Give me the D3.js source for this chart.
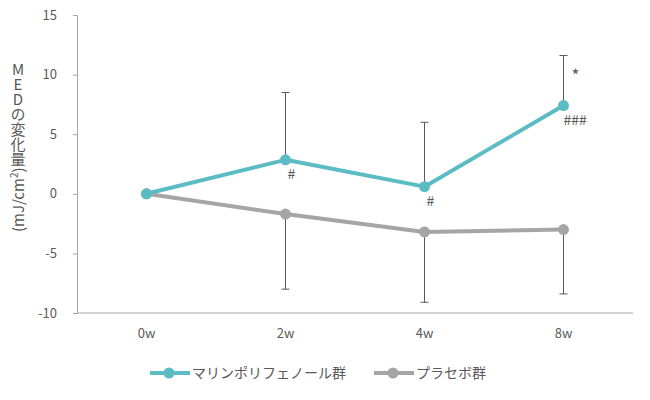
<!DOCTYPE html>
<html>
<head>
<meta charset="utf-8">
<script src="https://cdn.jsdelivr.net/npm/d3@7"></script>
<style>
body { margin: 0; background: #fff; }
text { font-family: "Noto Sans CJK JP", "Open Sans", sans-serif; fill: #595959; }
</style>
</head>
<body>
<div id="chart"></div>
<script>
var categories = ["0w", "2w", "4w", "8w"];
var seriesNames = ["マリンポリフェノール群", "プラセボ群"];
var marineValues = [0, 2.85, 0.6, 7.4];
var marineErrUp = [0, 5.65, 5.4, 4.2];
var placeboValues = [0, -1.7, -3.2, -3.0];
var placeboErrDown = [0, 6.3, 5.9, 5.4];
var yTicks = [-10, -5, 0, 5, 10, 15];
var marks = [
    {cat: "2w", value: 2.85, label: "#", pos: "below"},
    {cat: "4w", value: 0.6, label: "#", pos: "below"},
    {cat: "8w", value: 11.6, label: "*", pos: "side"},
    {cat: "8w", value: 7.4, label: "###", pos: "below"}
];

var width = 650, height = 400;
var margin = {top: 15, right: 17, bottom: 87, left: 77};

var svg = d3.select("#chart").append("svg")
    .attr("width", width)
    .attr("height", height);

var x = d3.scaleBand()
    .domain(categories)
    .range([margin.left, width - margin.right]);

var y = d3.scaleLinear()
    .domain([-10, 15])
    .range([height - margin.bottom, margin.top]);

var cx = function(c) { return x(c) + x.bandwidth() / 2; };

// y axis
var yAxis = svg.append("g")
    .attr("transform", "translate(" + margin.left + ",0)")
    .call(d3.axisLeft(y).tickValues(yTicks).tickSize(4).tickPadding(16)
        .tickFormat(function(d) { return String(d); }));
yAxis.select(".domain").attr("stroke", "#a6a6a6");
yAxis.selectAll(".tick line").attr("stroke", "#a6a6a6");
yAxis.selectAll("text").style("font-size", "13px").attr("fill", "#595959");

// x axis
var xAxis = svg.append("g")
    .attr("transform", "translate(0," + y(-10) + ")")
    .call(d3.axisBottom(x).tickSize(0).tickPadding(16));
xAxis.select(".domain").attr("stroke", "#a6a6a6").attr("d", "M" + margin.left + ",0H" + (width - margin.right));
xAxis.selectAll("text").style("font-size", "13px").attr("fill", "#595959");

// y label
svg.append("text")
    .attr("x", 18)
    .attr("y", 62)
    .style("writing-mode", "vertical-rl")
    .style("text-orientation", "upright")
    .style("font-size", "15px")
    .attr("fill", "#404040")
    .text("MEDの変化量");

var unitLabel = svg.append("text")
    .attr("transform", "translate(24,232) rotate(-90)")
    .style("font-size", "15px")
    .attr("fill", "#404040");
unitLabel.append("tspan").text("(mJ/cm");
unitLabel.append("tspan").attr("dy", -6).style("font-size", "10px").text("2");
unitLabel.append("tspan").attr("dy", 6).text(")");

var errColor = "#595959";
var cap = 4;

// error bars (marine: up, placebo: down)
var errData = [];
categories.forEach(function(c, i) {
    if (marineErrUp[i] > 0) errData.push({cat: c, from: marineValues[i], to: marineValues[i] + marineErrUp[i]});
    if (placeboErrDown[i] > 0) errData.push({cat: c, from: placeboValues[i], to: placeboValues[i] - placeboErrDown[i]});
});

var eb = svg.append("g").selectAll("g").data(errData).enter().append("g");
eb.append("line")
    .attr("x1", function(d) { return cx(d.cat); })
    .attr("x2", function(d) { return cx(d.cat); })
    .attr("y1", function(d) { return y(d.from); })
    .attr("y2", function(d) { return y(d.to); })
    .attr("stroke", errColor).attr("stroke-width", 1);
eb.append("line")
    .attr("x1", function(d) { return cx(d.cat) - cap; })
    .attr("x2", function(d) { return cx(d.cat) + cap; })
    .attr("y1", function(d) { return y(d.to); })
    .attr("y2", function(d) { return y(d.to); })
    .attr("stroke", errColor).attr("stroke-width", 1);

var series = [
    {name: seriesNames[1], values: placeboValues, color: "#a5a5a5"},
    {name: seriesNames[0], values: marineValues, color: "#5bbcc4"}
];

var line = d3.line()
    .x(function(d) { return cx(d.cat); })
    .y(function(d) { return y(d.v); });

series.forEach(function(s) {
    var pts = categories.map(function(c, i) { return {cat: c, v: s.values[i]}; });
    svg.append("path")
        .datum(pts)
        .attr("d", line)
        .attr("fill", "none")
        .attr("stroke", s.color)
        .attr("stroke-width", 4)
        .attr("stroke-linejoin", "round");
    svg.append("g").selectAll("circle").data(pts).enter().append("circle")
        .attr("cx", function(d) { return cx(d.cat); })
        .attr("cy", function(d) { return y(d.v); })
        .attr("r", 5.5)
        .attr("fill", s.color);
});

// significance marks
svg.append("g").selectAll("text").data(marks).enter().append("text")
    .attr("x", function(d) { return cx(d.cat) + (d.pos == "side" ? 8 : (d.label == "###" ? 0 : 2)); })
    .attr("y", function(d) { return d.pos == "side" ? y(d.value) + 26 : y(d.value) + 19; })
    .style("font-size", function(d) { return d.pos == "side" ? "17px" : "14px"; })
    .attr("fill", "#7f7f7f")
    .text(function(d) { return d.label; });

// legend
var legendItems = [
    {name: seriesNames[0], color: "#5bbcc4", x: 150},
    {name: seriesNames[1], color: "#a5a5a5", x: 374}
];
var lg = svg.append("g").selectAll("g").data(legendItems).enter().append("g")
    .attr("transform", function(d) { return "translate(" + d.x + ",373)"; });
lg.append("line")
    .attr("x1", 0).attr("x2", 40).attr("y1", 0).attr("y2", 0)
    .attr("stroke", function(d) { return d.color; })
    .attr("stroke-width", 4);
lg.append("circle")
    .attr("cx", 19).attr("cy", 0).attr("r", 5.5)
    .attr("fill", function(d) { return d.color; });
lg.append("text")
    .attr("x", 42).attr("y", 5)
    .style("font-size", "14px")
    .attr("fill", "#595959")
    .text(function(d) { return d.name; });
</script>
</body>
</html>
